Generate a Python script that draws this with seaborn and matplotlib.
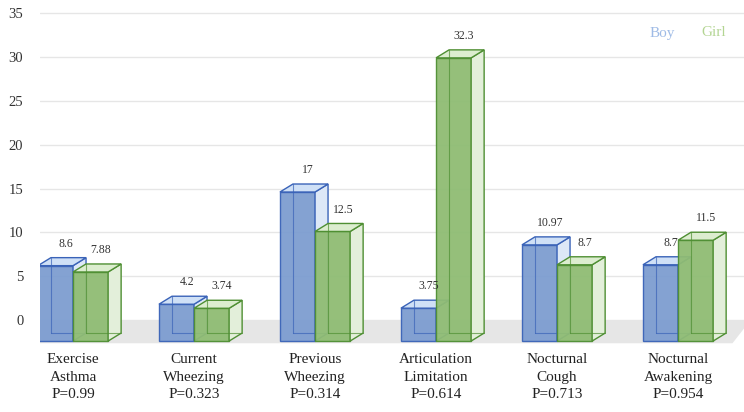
import matplotlib
matplotlib.use("Agg")
import matplotlib.pyplot as plt
import numpy as np
import pandas as pd
import seaborn as sns
from matplotlib.patches import Polygon

# data
items = ["Exercise\nAsthma\nP=0.99", "Current\nWheezing\nP=0.323", "Previous\nWheezing\nP=0.314",
         "Articulation\nLimitation\nP=0.614", "Nocturnal\nCough\nP=0.713", "Nocturnal\nAwakening\nP=0.954"]
boy = [8.6, 4.2, 17, 3.75, 10.97, 8.7]
girl = [7.88, 3.74, 12.5, 32.3, 8.7, 11.5]
boy_lbl = ["8.6", "4.2", "17", "3.75", "10.97", "8.7"]
girl_lbl = ["7.88", "3.74", "12.5", "32.3", "8.7", "11.5"]

df = pd.DataFrame({
    "item": items * 2,
    "value": boy + girl,
    "sex": ["Boy"] * len(items) + ["Girl"] * len(items),
})

front = {"Boy": "#6f9ade", "Girl": "#8cc867"}
edge = {"Boy": "#3a63b8", "Girl": "#4f8f33"}
side = {"Boy": "#dde8f7", "Girl": "#e3efda"}
top = {"Boy": "#cfe0f6", "Girl": "#dcedcf"}

sns.set_style("white")
plt.rcParams['font.family'] = ['Liberation Serif', 'DejaVu Serif']

fig = plt.figure(figsize=(7.44, 4.12), dpi=100)
ax = fig.add_axes([40 / 744, 1 - 345 / 412, 1 - 40 / 744, 345 / 412])

sns.barplot(data=df, x="item", y="value", hue="sex", palette=front, width=0.58,
            dodge=True, legend=False, ax=ax)

ax.set_xlim(-0.273, 5.545)
ax.set_ylim(-2.85, 36.5)
ax.set_yticks(np.arange(0, 36, 5))
ax.set_yticklabels([str(v) for v in range(0, 36, 5)], fontsize=10.5, color="#333333")
ax.set_xticks(range(len(items)))
ax.set_xticklabels(items, fontsize=11, color="#222222", linespacing=1.42)
ax.tick_params(axis="both", length=0)
ax.tick_params(axis="y", pad=12)
ax.tick_params(axis="x", pad=6)
ax.set_xlabel("")
ax.set_ylabel("")
for s in ax.spines.values():
    s.set_visible(False)
ax.yaxis.grid(True, color="#e6e6e6", lw=1)
ax.set_axisbelow(True)

# floor of the pseudo 3d chart
floor = Polygon([(-0.30, 0), (5.6, 0), (5.45, -2.65), (-0.42, -2.65)],
                closed=True, facecolor="#e6e6e6", edgecolor="none", zorder=0.5)
ax.add_patch(floor)

base = -2.4
dx = 13 / 121
dy = 8 / 8.77

for k, (sex, cont) in enumerate(zip(["Boy", "Girl"], ax.containers)):
    labels = boy_lbl if sex == "Boy" else girl_lbl
    z = 2 + 2 * k
    for p, lab in zip(cont.patches, labels):
        h = p.get_height()
        p.set_y(base)
        p.set_edgecolor(edge[sex])
        p.set_linewidth(1)
        p.set_alpha(0.95)
        p.set_zorder(z)
        x0 = p.get_x()
        x1 = x0 + p.get_width()
        y1 = base + h
        sidep = Polygon([(x1, base), (x1 + dx, base + dy), (x1 + dx, y1 + dy), (x1, y1)],
                        closed=True, facecolor=side[sex], edgecolor=edge[sex], lw=1, zorder=z + 0.2)
        topp = Polygon([(x0, y1), (x0 + dx, y1 + dy), (x1 + dx, y1 + dy), (x1, y1)],
                       closed=True, facecolor=top[sex], edgecolor=edge[sex], lw=1, zorder=z + 0.2)
        ax.add_patch(sidep)
        ax.add_patch(topp)
        # hidden edges seen through the faces
        ax.plot([x0 + dx, x0 + dx], [base + dy, y1 + dy], color=edge[sex], lw=0.8, alpha=0.7, zorder=z + 0.3)
        ax.plot([x0 + dx, x1 + dx], [base + dy, base + dy], color=edge[sex], lw=0.8, alpha=0.7, zorder=z + 0.3)
        ax.text((x0 + x1) / 2 + dx * 0.8, y1 + dy + 0.9, lab, ha="center", va="bottom",
                fontsize=8.5, color="#333333", zorder=10)

fig.text(662 / 744, 1 - 33 / 412, "Boy", color="#9fbbe6", fontsize=11, ha="center", va="center")
fig.text(714 / 744, 1 - 33 / 412, "Girl", color="#b3d592", fontsize=11, ha="center", va="center")

fig.savefig("out.png", dpi=100)
